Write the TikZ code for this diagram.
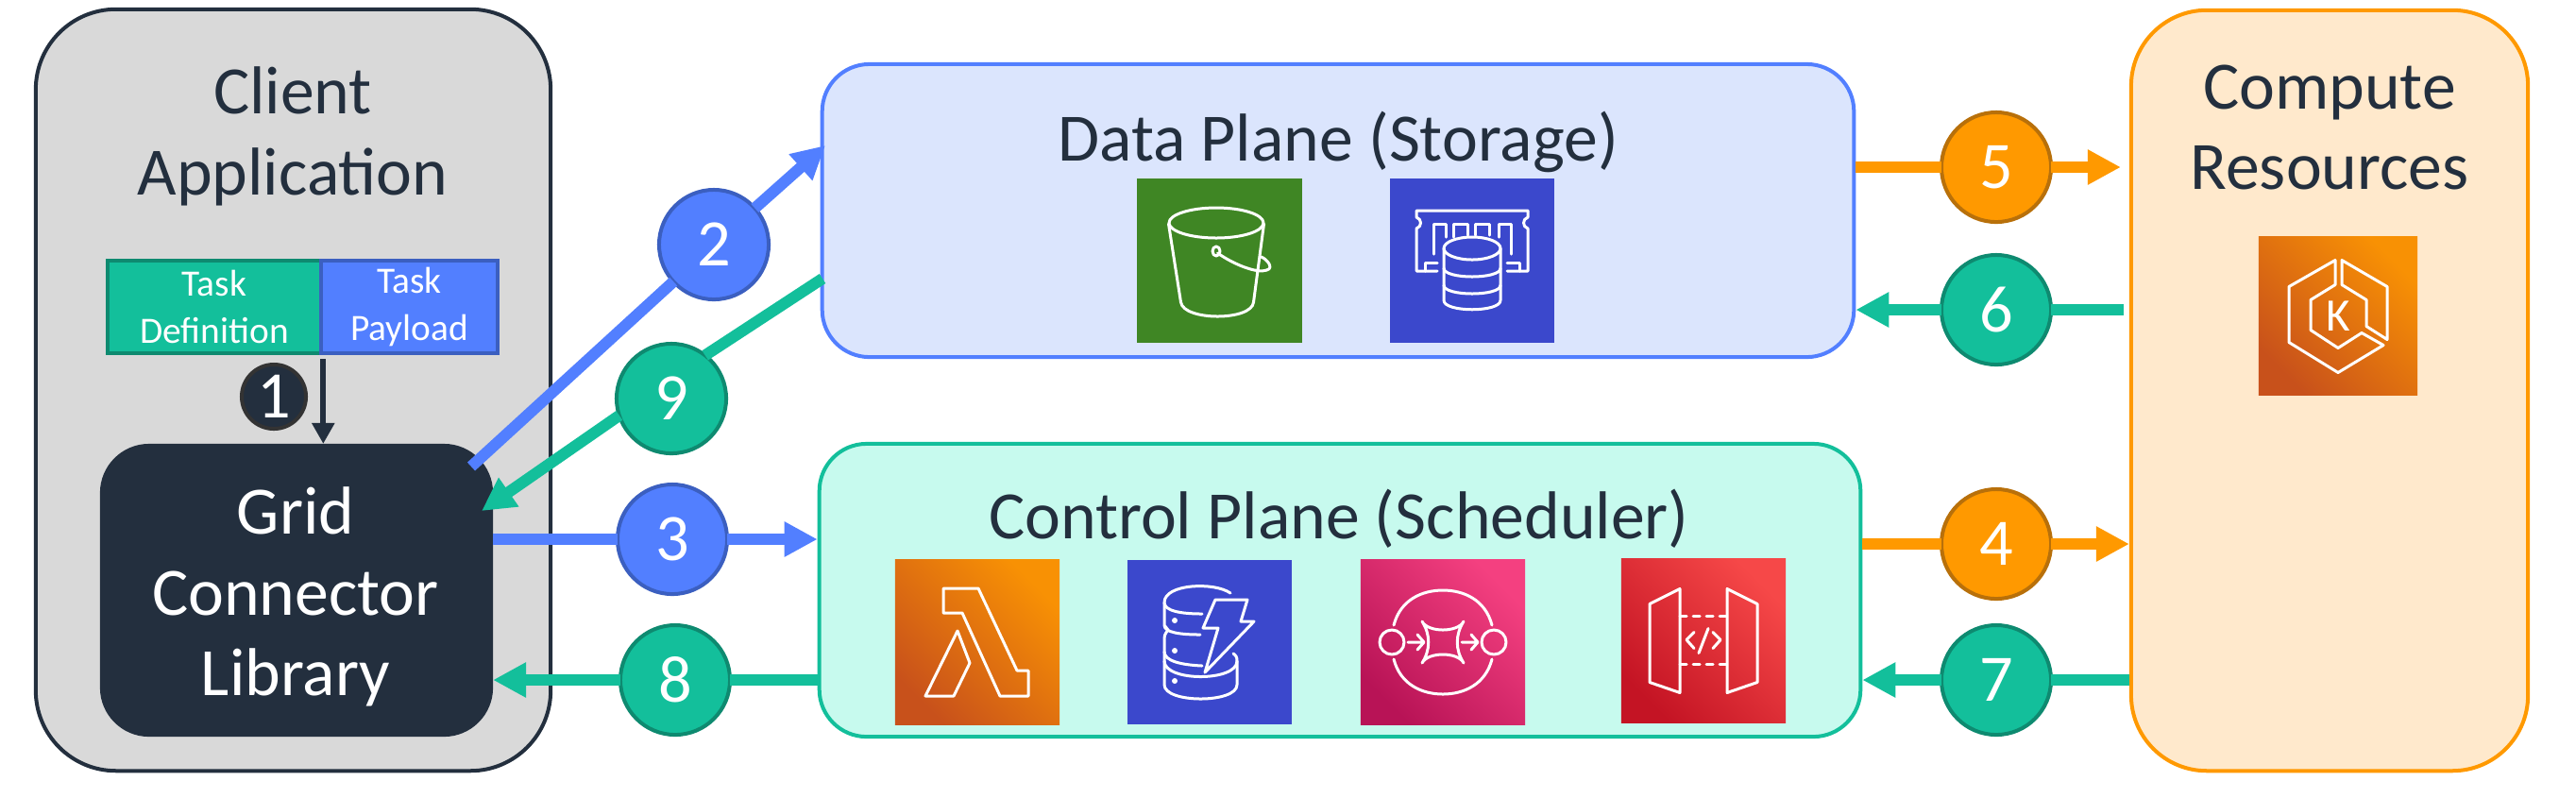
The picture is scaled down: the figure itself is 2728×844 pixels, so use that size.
\documentclass[tikz,border=0pt]{standalone}
\usepackage{fontspec}
\setmainfont{Carlito}
\usetikzlibrary{arrows.meta, positioning}
\definecolor{ink}{HTML}{232F3E}
\definecolor{awsblue}{HTML}{527FFF}
\definecolor{awsblueline}{HTML}{3B5FC0}
\definecolor{awsgreen}{HTML}{13BF9B}
\definecolor{awsgreenline}{HTML}{0E8A70}
\definecolor{awsorange}{HTML}{FF9900}
\definecolor{awsorangeline}{HTML}{B8700A}
\definecolor{datafill}{HTML}{DBE5FD}
\definecolor{controlfill}{HTML}{C7FAEE}
\definecolor{computefill}{HTML}{FFE9CC}
\definecolor{bucketgreen}{HTML}{3F8624}
\definecolor{dbblue}{HTML}{3B48CC}
\definecolor{orangelow}{HTML}{C8511B}
\definecolor{orangehigh}{HTML}{F89104}
\definecolor{pinklow}{HTML}{B81356}
\definecolor{pinkhigh}{HTML}{F44080}
\definecolor{redlow}{HTML}{C41424}
\definecolor{redhigh}{HTML}{F64848}

\begin{document}
\begin{tikzpicture}[x=0.01cm,y=-0.01cm]
    \tikzstyle{plane}=[rounded corners=.5cm,line width=.04cm,inner sep=0pt]
    \tikzstyle{title}=[text=ink,align=center,inner sep=0pt,font=\fontsize{20.4}{24.4}\selectfont]
    \tikzstyle{tasktext}=[minimum height=.98cm,inner sep=0pt,align=center,text=white,line width=.045cm,font=\fontsize{11.2}{14.4}\selectfont]
    \tikzstyle{badge}=[circle,minimum size=1.16cm,inner sep=0pt,outer sep=0pt,line width=.04cm,text=white,font=\fontsize{20}{20}\selectfont]
    \tikzstyle{blue badge}=[badge,fill=awsblue,draw=awsblueline]
    \tikzstyle{green badge}=[badge,fill=awsgreen,draw=awsgreenline]
    \tikzstyle{orange badge}=[badge,fill=awsorange,draw=awsorangeline]
    \tikzstyle{wire}=[line width=.12cm]
    \tikzstyle{flow}=[wire,-{Triangle[length=.35cm,width=.35cm]}]
    \tikzstyle{icon}=[minimum width=1.74cm,minimum height=1.74cm,inner sep=0pt]
    \tikzstyle{glow}=[shading angle=135]
    \tikzstyle{glyph}=[draw=white,line width=.03cm,line join=round,line cap=round]

    \useasboundingbox (0,0) rectangle (2728,844);

    % the four big boxes
    \node[plane,rounded corners=.85cm,fill=black!15,draw=ink,minimum width=5.45cm,minimum height=8.06cm] (client) at (310.5,413) {};
    \node[plane,fill=datafill,draw=awsblue,minimum width=10.92cm,minimum height=3.1cm] (data) at (1417,223) {};
    \node[plane,fill=controlfill,draw=awsgreen,minimum width=11.02cm,minimum height=3.1cm] (control) at (1419,625) {};
    \node[plane,rounded corners=.8cm,fill=computefill,draw=awsorange,minimum width=4.2cm,minimum height=8.05cm] (compute) at (2467,413.5) {};
    \node[plane,fill=ink,draw=ink,minimum width=4.12cm,minimum height=3.06cm] (grid) at (314,625) {};

    \node[title] (clienttitle) at (310,144) {Client\\Application};
    \node[title] (datatitle) at (1417,150) {Data Plane (Storage)};
    \node[title] (controltitle) at (1418,549) {Control Plane (Scheduler)};
    \node[title] (computetitle) at (2467,135) {Compute\\Resources};
    \node[title,text=white] (gridtitle) at (313,632) {Grid\\Connector\\Library};

    \node[tasktext,fill=awsgreen,draw=awsgreenline,minimum width=2.26cm] (taskdef) at (227,325) {Task\\Definition};
    \node[tasktext,fill=awsblue,draw=awsblueline,minimum width=1.87cm] (taskload) at (433.5,325) {Task\\Payload};

    \node[badge,fill=ink,draw=black!80,minimum size=.68cm] (n1) at (290,420) {1};
    \node[blue badge] (n2) at (756,259) {2};
    \node[blue badge] (n3) at (712,571) {3};
    \node[orange badge] (n4) at (2114,576) {4};
    \node[orange badge] (n5) at (2114,177) {5};
    \node[green badge] (n6) at (2114,328) {6};
    \node[green badge] (n7) at (2114,720) {7};
    \node[green badge] (n8) at (715,720) {8};
    \node[green badge] (n9) at (711,422) {9};

    \coordinate (gridout) at (499,494);
    \coordinate (datain) at (874,154);
    \coordinate (dataout) at (871,295);
    \coordinate (gridin) at (510,541);

    \draw[ink,line width=.06cm,shorten <=.04cm,-{Triangle[length=.22cm,width=.23cm]}] (taskdef.south east) -- (taskdef.south east |- grid.north);
    \draw[wire,awsblue] (gridout) -- (n2);
    \draw[flow,awsblue] (n2) -- (datain);
    \draw[wire,awsgreen] (dataout) -- (n9.52);
    \draw[flow,awsgreen] (n9.198) -- (gridin);
    \draw[wire,awsblue] (grid.east |- n3) -- (n3);
    \draw[flow,awsblue] (n3) -- (control.west |- n3);
    \draw[wire,awsgreen] (control.west |- n8) -- (n8);
    \draw[flow,awsgreen] (n8) -- (grid.east |- n8);
    \draw[wire,awsorange] (data.east |- n5) -- (n5);
    \draw[flow,awsorange,shorten >=.09cm] (n5) -- (compute.west |- n5);
    \draw[wire,awsgreen,shorten <=.06cm] (compute.west |- n6) -- (n6);
    \draw[flow,awsgreen] (n6) -- (data.east |- n6);
    \draw[wire,awsorange] (control.east |- n4) -- (n4);
    \draw[flow,awsorange] (n4) -- (compute.west |- n4);
    \draw[wire,awsgreen] (compute.west |- n7) -- (n7);
    \draw[flow,awsgreen] (n7) -- (control.east |- n7);

    % service icons
    \node[icon,fill=bucketgreen] (bucket) at (1291.5,276) {};
    \node[icon,fill=dbblue] (memdb) at (1559,276) {};
    \node[icon,left color=orangelow,right color=orangehigh,glow] (lambda) at (1035,680) {};
    \node[icon,fill=dbblue] (dynamo) at (1281,680) {};
    \node[icon,left color=pinklow,right color=pinkhigh,glow] (queue) at (1528,680) {};
    \node[icon,left color=redlow,right color=redhigh,glow] (apigw) at (1804,678.5) {};
    \node[icon,minimum width=1.68cm,minimum height=1.67cm,left color=orangelow,right color=orangehigh,glow] (kube) at (2476,334.5) {};

    \begin{scope}[shift={(bucket.center)}]
        \draw[glyph] (-3.5,-40) ellipse (50 and 16);
        \draw[glyph] (-54,-39) -- (-41,44) .. controls (-38,64) and (34,64) .. (36,44) -- (47,-39);
        \draw[glyph] (-3.5,-10) ellipse (4 and 5);
        \draw[glyph] (-2,-8) .. controls (15,4) and (40,14) .. (50,10) .. controls (58,8) and (50,-2) .. (44,-4);
    \end{scope}
    \begin{scope}[shift={(memdb.center)}]
        \draw[glyph] (-37,11) -- (-59,11) -- (-59,-34) .. controls (-53,-36) and (-53,-44) .. (-59,-46) -- (-59,-53) -- (59,-53) -- (59,-46) .. controls (53,-44) and (53,-36) .. (59,-34) -- (59,11) -- (37,11);
        \draw[glyph] (-41,-7) -- (-41,-39) -- (-28,-39) -- (-28,-25) (-20,-25) -- (-20,-39) -- (-5,-39) -- (-5,-27) (3,-27) -- (3,-39) -- (18,-39) -- (18,-27) (28,-25) -- (28,-39) -- (41,-39) -- (41,-7);
        \draw[glyph] (-37,2) -- (-50,2) -- (-50,11) (37,2) -- (50,2) -- (50,11);
        \draw[glyph] (0,-13) ellipse (30 and 12);
        \draw[glyph] (-30,-13) -- (-30,42) .. controls (-30,55) and (30,55) .. (30,42) -- (30,-13);
        \draw[glyph] (-30,8) .. controls (-30,20) and (30,20) .. (30,8);
        \draw[glyph] (-30,26) .. controls (-30,38) and (30,38) .. (30,26);
    \end{scope}
    \begin{scope}[shift={(lambda.center)}]
        \draw[glyph] (-36,-57) -- (1,-57) -- (42,30) -- (54,30) -- (54,57) -- (24,57) -- (-16,-31) -- (-36,-31) -- cycle;
        \draw[glyph] (-21,-12) -- (-8,22) -- (-25,57) -- (-55,57) -- cycle;
    \end{scope}
    \begin{scope}[shift={(dynamo.center)}]
        \draw[glyph] (22,-52) .. controls (5,-64) and (-48,-62) .. (-48,-42) .. controls (-48,-33) and (-30,-30) .. (-8,-30);
        \draw[glyph] (-48,-42) -- (-48,-18) .. controls (-48,-10) and (-30,-8) .. (-10,-8) (-48,-18) -- (-44,-13) (-44,-13) .. controls (-48,-8) and (-48,-6) .. (-48,-4) -- (-48,10) .. controls (-48,20) and (-30,24) .. (-8,25);
        \draw[glyph] (-48,10) -- (-48,45) .. controls (-48,65) and (29,65) .. (29,45) -- (29,20) .. controls (29,16) and (28,14) .. (25,12);
        \draw[glyph] (-48,20) .. controls (-48,42) and (29,42) .. (29,20);
        \draw[glyph] (6,-45) -- (40,-45) -- (33,-22) -- (47,-22) -- (-5,32) -- (9,-15) -- (-7,-15) -- cycle;
        \fill[white] (-37,-23) circle (3) (-37,9) circle (3) (-37,41) circle (3);
    \end{scope}
    \begin{scope}[shift={(queue.center)}]
        \draw[glyph] (-52,-18) .. controls (-45,-45) and (-22,-55) .. (0,-55) .. controls (22,-55) and (45,-45) .. (52,-18);
        \draw[glyph] (-52,18) .. controls (-45,45) and (-22,55) .. (0,55) .. controls (22,55) and (45,45) .. (52,18);
        \draw[glyph] (-54,0) circle (13) (54,0) circle (13);
        \draw[glyph] (-22,-22) .. controls (-16,-10) and (16,-10) .. (22,-22) .. controls (13,-8) and (13,8) .. (22,22) .. controls (16,10) and (-16,10) .. (-22,22) .. controls (-13,8) and (-13,-8) .. (-22,-22) -- cycle;
        \draw[glyph] (-37,0) -- (-22,0) (-27,-8) -- (-20,0) -- (-27,8);
        \draw[glyph] (20,0) -- (35,0) (30,-8) -- (37,0) -- (30,8);
    \end{scope}
    \begin{scope}[shift={(apigw.center)}]
        \draw[glyph] (-25,-55) -- (-25,55) -- (-57,44) -- (-57,-39) -- cycle;
        \draw[glyph] (25,-55) -- (25,55) -- (57,44) -- (57,-39) -- cycle;
        \draw[glyph,dash pattern=on .07cm off .07cm] (-25,-26) -- (25,-26) (-25,25) -- (25,25);
        \draw[glyph] (-10,-9) -- (-18,-1) -- (-10,8) (10,-9) -- (18,-1) -- (10,8) (5,-13) -- (-5,13);
    \end{scope}
    \begin{scope}[shift={(kube.center)}]
        \draw[glyph] (-3,-59) -- (-52,-31) -- (-52,28) -- (0,60) -- (48,31) -- (25,18) -- (0,34) -- (-29,15) -- (-29,-17) -- (-3,-33) -- cycle;
        \draw[glyph] (4,-59) -- (52,-31) -- (52,25) -- (30,11) -- (30,-17) -- (4,-33) -- cycle;
        \node[text=white,inner sep=0pt,font=\fontsize{14}{14}\selectfont] (kubek) at (0,0) {K};
    \end{scope}
\end{tikzpicture}
\end{document}
